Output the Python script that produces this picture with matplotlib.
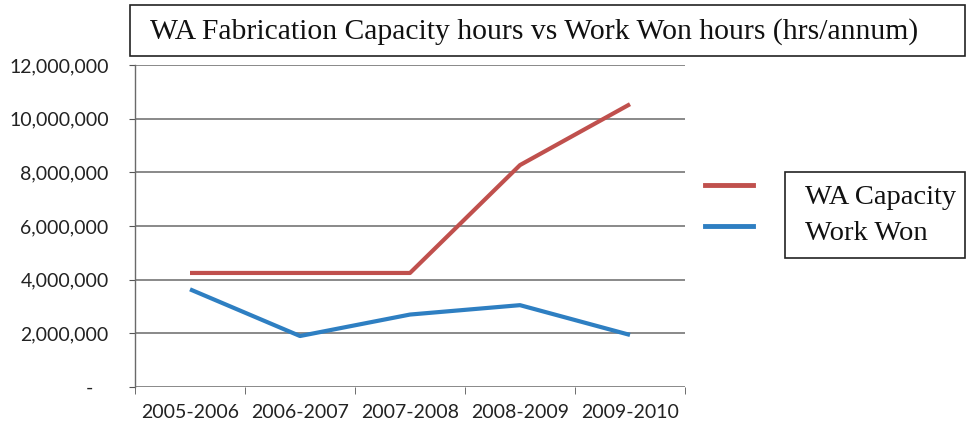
import matplotlib
matplotlib.use("Agg")
import matplotlib.pyplot as plt
from matplotlib.lines import Line2D
from matplotlib.patches import Rectangle

categories = ["2005-2006", "2006-2007", "2007-2008", "2008-2009", "2009-2010"]
wa_capacity = [4250000, 4250000, 4250000, 8270000, 10540000]
work_won = [3640000, 1900000, 2700000, 3050000, 1940000]
y_ticks = [0, 2000000, 4000000, 6000000, 8000000, 10000000, 12000000]
y_labels = ["-   ", "2,000,000", "4,000,000", "6,000,000", "8,000,000", "10,000,000", "12,000,000"]
title = "WA Fabrication Capacity hours vs Work Won hours (hrs/annum)"
series_names = ["WA Capacity", "Work Won"]
red = "#c0504d"
blue = "#2e7fc2"

W, H = 973, 434
fig = plt.figure(figsize=(W / 100, H / 100), dpi=100)
ax = fig.add_axes([135 / W, 1 - 387 / H, 550 / W, (387 - 65) / H])

x = list(range(len(categories)))
ax.plot(x, wa_capacity, color=red, lw=3, solid_capstyle="butt")
ax.plot(x, work_won, color=blue, lw=3, solid_capstyle="butt")

ax.set_xlim(-0.5, len(categories) - 0.5)
ax.set_ylim(0, 12000000)
ax.set_yticks(y_ticks)
ax.set_yticklabels(y_labels, fontsize=14, family="Lato", color="#222222")
ax.set_xticks(x)
ax.set_xticklabels(categories, fontsize=14, family="Lato", color="#222222")
ax.tick_params(axis="x", length=0, pad=12.5)
ax.tick_params(axis="y", length=4, direction="out", color="#555555", pad=15)
ax.set_xticks([i - 0.5 for i in range(len(categories) + 1)], minor=True)
ax.tick_params(axis="x", which="minor", length=5, color="#555555", direction="out")

ax.grid(axis="y", color="#6a6a6a", lw=1.1)
ax.set_axisbelow(True)
for s in ["top", "right", "bottom"]:
    ax.spines[s].set_visible(False)
ax.spines["left"].set_color("#6a6a6a")
ax.spines["left"].set_linewidth(1.0)

# Title box
fig.patches.append(Rectangle((130 / W, 1 - 56 / H), 835 / W, 51 / H,
                             transform=fig.transFigure, fill=False,
                             edgecolor="#222222", lw=1.2))
fig.text(150 / W, 1 - 32 / H, title, ha="left", va="center",
         fontsize=21.3, family="Liberation Serif", color="#111111")

# Legend lines
fig.add_artist(Line2D([705 / W, 753 / W], [1 - 185 / H, 1 - 185 / H],
                      transform=fig.transFigure, color=red, lw=3.5))
fig.add_artist(Line2D([705 / W, 753 / W], [1 - 226 / H, 1 - 226 / H],
                      transform=fig.transFigure, color=blue, lw=3.5))
# Legend box
fig.patches.append(Rectangle((785 / W, 1 - 258 / H), 180 / W, 86 / H,
                             transform=fig.transFigure, fill=False,
                             edgecolor="#222222", lw=1.2))
fig.text(805 / W, 1 - 198 / H, series_names[0], ha="left", va="center",
         fontsize=20.5, family="Liberation Serif", color="#111111")
fig.text(805 / W, 1 - 234 / H, series_names[1], ha="left", va="center",
         fontsize=20.5, family="Liberation Serif", color="#111111")

fig.savefig("out.png", dpi=100)
